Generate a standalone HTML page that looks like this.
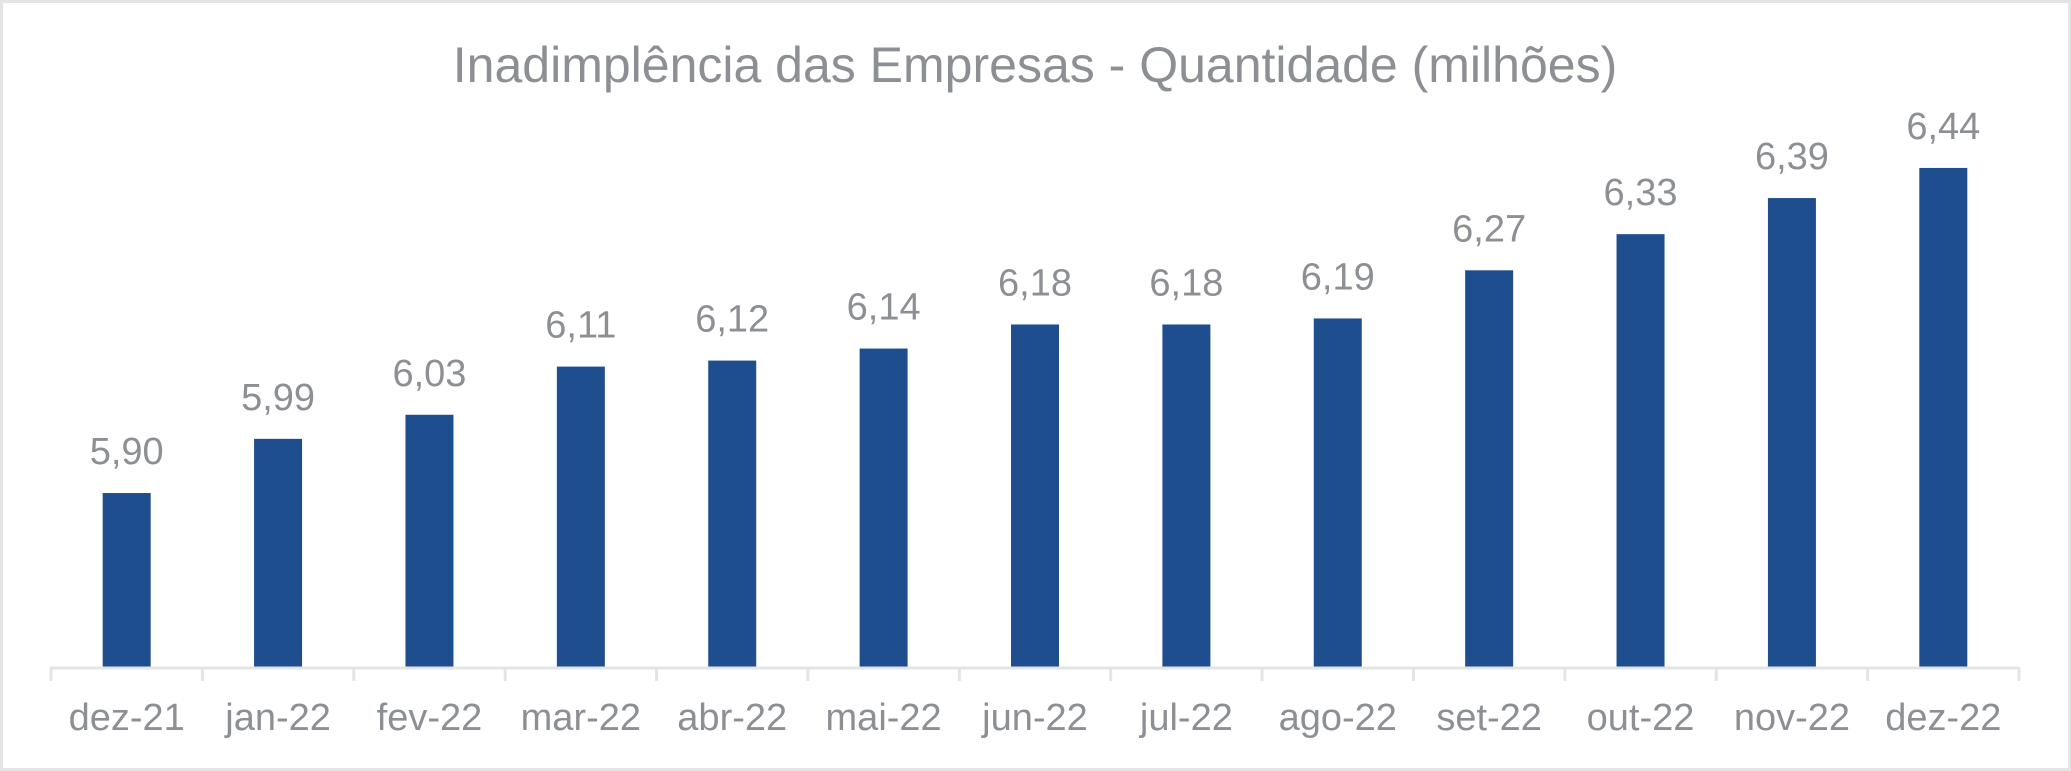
<!DOCTYPE html>
<html><head><meta charset="utf-8"><style>
html,body{margin:0;padding:0;background:#fff}
svg{display:block}
text{font-family:"Liberation Sans",Arial,sans-serif;fill:#8c8f94}
</style></head><body>
<svg id="chart" width="2071" height="771" viewBox="0 0 2071 771">
<rect x="1.5" y="1.5" width="2068" height="768" fill="#fff" stroke="#e3e4e6" stroke-width="3"/>
<text x="1035" y="82" text-anchor="middle" font-size="50">Inadimplência das Empresas - Quantidade (milhões)</text>
<g id="bars"></g>
</svg>
<script>
const categories = ["dez-21","jan-22","fev-22","mar-22","abr-22","mai-22","jun-22","jul-22","ago-22","set-22","out-22","nov-22","dez-22"];
const values = [5.90,5.99,6.03,6.11,6.12,6.14,6.18,6.18,6.19,6.27,6.33,6.39,6.44];
const valueLabels = ["5,90","5,99","6,03","6,11","6,12","6,14","6,18","6,18","6,19","6,27","6,33","6,39","6,44"];

const NS = "http://www.w3.org/2000/svg";
const g = document.getElementById("bars");
const x0 = 51, x1 = 2019, baseY = 667;
const band = (x1 - x0) / categories.length;
const yMin = 5.611, pxPerUnit = 602;
function xCenter(i){ return x0 + band * (i + 0.5); }
function y(v){ return baseY - (v - yMin) * pxPerUnit; }
const barW = 48;

categories.forEach((c, i) => {
  const cx = xCenter(i);
  const r = document.createElementNS(NS, "rect");
  r.setAttribute("x", cx - barW/2);
  r.setAttribute("y", y(values[i]));
  r.setAttribute("width", barW);
  r.setAttribute("height", baseY - y(values[i]));
  r.setAttribute("fill", "#1f4e8f");
  
  
  g.appendChild(r);

  const t = document.createElementNS(NS, "text");
  t.setAttribute("x", cx);
  t.setAttribute("y", y(values[i]) - 29);
  t.setAttribute("text-anchor", "middle");
  t.setAttribute("font-size", "38");
  t.textContent = valueLabels[i];
  
  
  g.appendChild(t);

  const l = document.createElementNS(NS, "text");
  l.setAttribute("x", cx);
  l.setAttribute("y", 730);
  l.setAttribute("text-anchor", "middle");
  l.setAttribute("font-size", "38");
  l.textContent = c;
  
  
  g.appendChild(l);
});

const axis = document.createElementNS(NS, "line");
axis.setAttribute("x1", x0); axis.setAttribute("x2", x1);
axis.setAttribute("y1", baseY + 1); axis.setAttribute("y2", baseY + 1);
axis.setAttribute("stroke", "#e3e4e6"); axis.setAttribute("stroke-width", "3");


g.appendChild(axis);

for (let i = 0; i <= categories.length; i++) {
  const tk = document.createElementNS(NS, "line");
  const tx = x0 + band * i;
  tk.setAttribute("x1", tx); tk.setAttribute("x2", tx);
  tk.setAttribute("y1", baseY); tk.setAttribute("y2", baseY + 14);
  tk.setAttribute("stroke", "#e3e4e6"); tk.setAttribute("stroke-width", "3");
  
  
  g.appendChild(tk);
}
</script>
</body></html>
